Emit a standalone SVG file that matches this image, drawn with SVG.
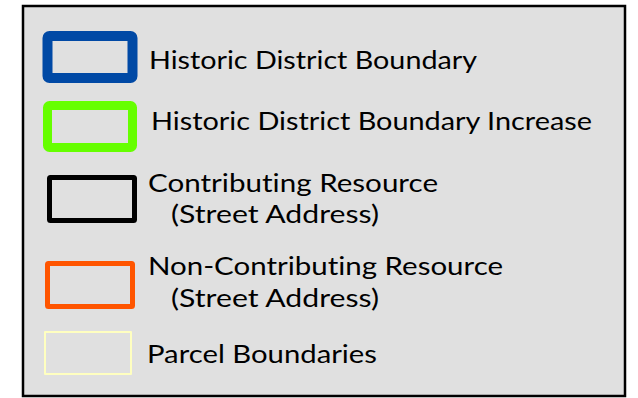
<svg xmlns="http://www.w3.org/2000/svg" width="638" height="398" viewBox="0 0 638 398">
<style>
text{font-family:Lato,"Liberation Sans",sans-serif;font-size:25.5px;fill:#000;font-variant-ligatures:none;font-feature-settings:"liga" 0,"clig" 0}
.sw{fill:none;stroke-linejoin:round}
</style>
<rect x="0" y="0" width="638" height="398" fill="#fff"/>
<rect id="frame" x="23" y="6" width="602" height="390" fill="#e0e0e0" stroke="#000" stroke-width="2.5"/>
<g id="hdb">
<rect class="sw" x="47.5" y="36" width="85" height="42" stroke="#0049a5" stroke-width="10" rx="2"/>
<text x="149" y="69" textLength="328" lengthAdjust="spacingAndGlyphs">Historic District Boundary</text>
</g>
<g id="hdbi">
<rect class="sw" x="47.5" y="105.5" width="85" height="42" stroke="#66ff00" stroke-width="9" rx="2"/>
<text x="151" y="130" textLength="441" lengthAdjust="spacingAndGlyphs">Historic District Boundary Increase</text>
</g>
<g id="contrib">
<rect class="sw" x="49.5" y="177.5" width="85" height="43" stroke="#000" stroke-width="5" rx="1"/>
<text x="148" y="192" textLength="290" lengthAdjust="spacingAndGlyphs">Contributing Resource</text>
<text x="171" y="223" textLength="208" lengthAdjust="spacingAndGlyphs">(Street Address)</text>
</g>
<g id="noncontrib">
<rect class="sw" x="47.5" y="263.5" width="85" height="43" stroke="#ff5500" stroke-width="5" rx="1"/>
<text x="148" y="275" textLength="355" lengthAdjust="spacingAndGlyphs">Non-Contributing Resource</text>
<text x="171" y="307" textLength="208" lengthAdjust="spacingAndGlyphs">(Street Address)</text>
</g>
<g id="parcel">
<rect class="sw" x="45" y="332" width="86" height="42" stroke="#ffffc0" stroke-width="2"/>
<text x="147" y="363" textLength="230" lengthAdjust="spacingAndGlyphs">Parcel Boundaries</text>
</g>
</svg>
